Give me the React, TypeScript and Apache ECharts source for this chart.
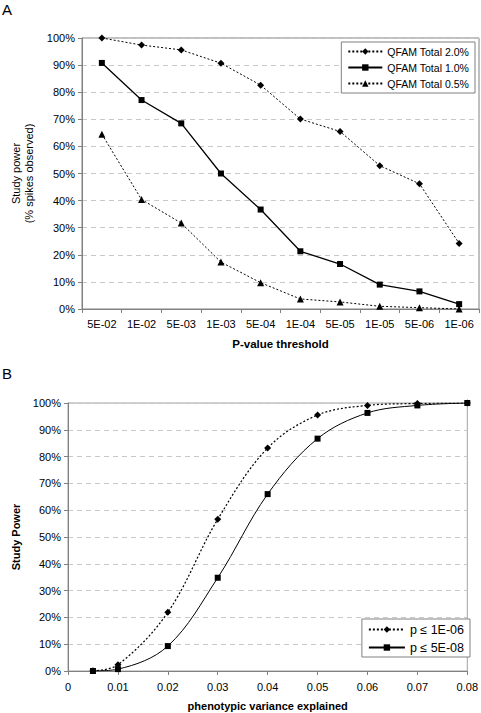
import React, { useEffect, useRef } from "react";
import * as echarts from "echarts";

// Panel A
const pThresholds = ["5E-02", "1E-02", "5E-03", "1E-03", "5E-04", "1E-04", "5E-05", "1E-05", "5E-06", "1E-06"];
const qfam20 = [100, 97.4, 95.6, 90.7, 82.6, 70.1, 65.5, 52.9, 46.2, 24.2];
const qfam10 = [90.8, 77.1, 68.5, 50.0, 36.7, 21.3, 16.6, 9.0, 6.5, 1.8];
const qfam05 = [64.5, 40.4, 31.7, 17.3, 9.7, 3.7, 2.6, 1.0, 0.5, 0.0];

// Panel B
const varianceExplained = [0.005, 0.01, 0.02, 0.03, 0.04, 0.05, 0.06, 0.07, 0.08];
const powerP1e6 = [0.1, 2.3, 21.9, 56.6, 83.2, 95.5, 99.1, 99.8, 100];
const powerP5e8 = [0.0, 0.7, 9.3, 34.8, 66.0, 86.7, 96.3, 99.1, 100];

const FONT = "Liberation Sans, Arial, sans-serif";
const GRAY = "#808080";

export default function App() {
  const ref = useRef<HTMLDivElement>(null);
  useEffect(() => {
    document.body.style.margin = "0";
    const chart = echarts.init(ref.current!, null, { renderer: "svg" });
    const dotted = [2, 2];
    const yAxisCommon = {
      type: "value",
      min: 0,
      max: 100,
      interval: 10,
      axisLine: { show: true, lineStyle: { color: GRAY, width: 1 } },
      axisTick: { show: true, length: 4, lineStyle: { color: GRAY } },
      axisLabel: { formatter: "{value}%", color: "#000", fontSize: 11, fontFamily: FONT, margin: 7 },
      splitLine: { show: true, lineStyle: { color: "#c8c8c8", type: [5, 4], width: 1 } },
      nameLocation: "middle",
      nameRotate: 90,
    };
    chart.setOption({
      animation: false,
      textStyle: { fontFamily: FONT },
      graphic: [
        { type: "text", left: 2, top: 2, style: { text: "A", fontSize: 15, fontFamily: FONT, fill: "#000" } },
        { type: "text", left: 2, top: 366, style: { text: "B", fontSize: 15, fontFamily: FONT, fill: "#000" } },
      ],
      grid: [
        { left: 82, right: 2, top: 38, bottom: 404, show: true, borderColor: GRAY, borderWidth: 1 },
        { left: 68, right: 13, top: 403, bottom: 42, show: true, borderColor: "#a0a0a0", borderWidth: 1 },
      ],
      legend: [
        {
          data: ["QFAM Total 2.0%", "QFAM Total 1.0%", "QFAM Total 0.5%"],
          orient: "vertical",
          right: 6,
          top: 42,
          itemWidth: 34,
          itemHeight: 8,
          itemGap: 5,
          padding: [4, 6, 4, 6],
          borderColor: GRAY,
          borderWidth: 1,
          backgroundColor: "#fff",
          textStyle: { fontSize: 10.5, color: "#000", fontFamily: FONT },
        },
        {
          data: ["p ≤ 1E-06", "p ≤ 5E-08"],
          orient: "vertical",
          right: 11,
          top: 619,
          itemWidth: 36,
          itemHeight: 8,
          itemGap: 5,
          padding: [4, 6, 3, 6],
          borderColor: GRAY,
          borderWidth: 1,
          backgroundColor: "#fff",
          textStyle: { fontSize: 12.5, color: "#000", fontFamily: FONT },
        },
      ],
      xAxis: [
        {
          type: "category",
          gridIndex: 0,
          data: pThresholds,
          boundaryGap: true,
          axisLine: { lineStyle: { color: GRAY } },
          axisTick: { show: true, length: 4, lineStyle: { color: GRAY } },
          axisLabel: { color: "#000", fontSize: 11, fontFamily: FONT, margin: 9, interval: 0 },
          name: "P-value threshold",
          nameLocation: "middle",
          nameGap: 29,
          nameTextStyle: { fontWeight: "bold", fontSize: 11.5, color: "#000", fontFamily: FONT },
        },
        {
          type: "value",
          gridIndex: 1,
          min: 0,
          max: 0.08,
          interval: 0.01,
          axisLine: { lineStyle: { color: GRAY } },
          axisTick: { show: true, length: 4, lineStyle: { color: GRAY } },
          axisLabel: {
            color: "#000",
            fontSize: 11,
            fontFamily: FONT,
            margin: 10,
            formatter: (v: number) => (v === 0 ? "0" : v.toFixed(2)),
          },
          splitLine: { show: false },
          name: "phenotypic variance explained",
          nameLocation: "middle",
          nameGap: 29,
          nameTextStyle: { fontWeight: "bold", fontSize: 11, color: "#000", fontFamily: FONT },
        },
      ],
      yAxis: [
        {
          ...yAxisCommon,
          gridIndex: 0,
          name: "Study power\n(% spikes observed)",
          nameGap: 40,
          nameTextStyle: { fontSize: 11, color: "#000", fontFamily: FONT, lineHeight: 13 },
        },
        {
          ...yAxisCommon,
          gridIndex: 1,
          name: "Study Power",
          nameGap: 39,
          nameTextStyle: { fontSize: 11, fontWeight: "bold", color: "#000", fontFamily: FONT },
        },
      ],
      series: [
        {
          name: "QFAM Total 2.0%",
          type: "line",
          xAxisIndex: 0,
          yAxisIndex: 0,
          data: qfam20,
          symbol: "diamond",
          symbolSize: 7,
          lineStyle: { color: "#000", width: 1, type: dotted },
          itemStyle: { color: "#000" },
        },
        {
          name: "QFAM Total 1.0%",
          type: "line",
          xAxisIndex: 0,
          yAxisIndex: 0,
          data: qfam10,
          symbol: "rect",
          symbolSize: 6,
          lineStyle: { color: "#000", width: 1.3 },
          itemStyle: { color: "#000" },
        },
        {
          name: "QFAM Total 0.5%",
          type: "line",
          xAxisIndex: 0,
          yAxisIndex: 0,
          data: qfam05,
          symbol: "triangle",
          symbolSize: 7,
          lineStyle: { color: "#000", width: 1, type: dotted },
          itemStyle: { color: "#000" },
        },
        {
          name: "p ≤ 1E-06",
          type: "line",
          xAxisIndex: 1,
          yAxisIndex: 1,
          data: varianceExplained.map((x, i) => [x, powerP1e6[i]]),
          smooth: 0.35,
          symbol: "diamond",
          symbolSize: 7,
          lineStyle: { color: "#000", width: 1.2, type: dotted },
          itemStyle: { color: "#000" },
        },
        {
          name: "p ≤ 5E-08",
          type: "line",
          xAxisIndex: 1,
          yAxisIndex: 1,
          data: varianceExplained.map((x, i) => [x, powerP5e8[i]]),
          smooth: 0.35,
          symbol: "rect",
          symbolSize: 6,
          lineStyle: { color: "#000", width: 1 },
          itemStyle: { color: "#000" },
        },
      ],
    });
    return () => chart.dispose();
  }, []);
  return <div ref={ref} style={{ width: 481, height: 713 }} />;
}
